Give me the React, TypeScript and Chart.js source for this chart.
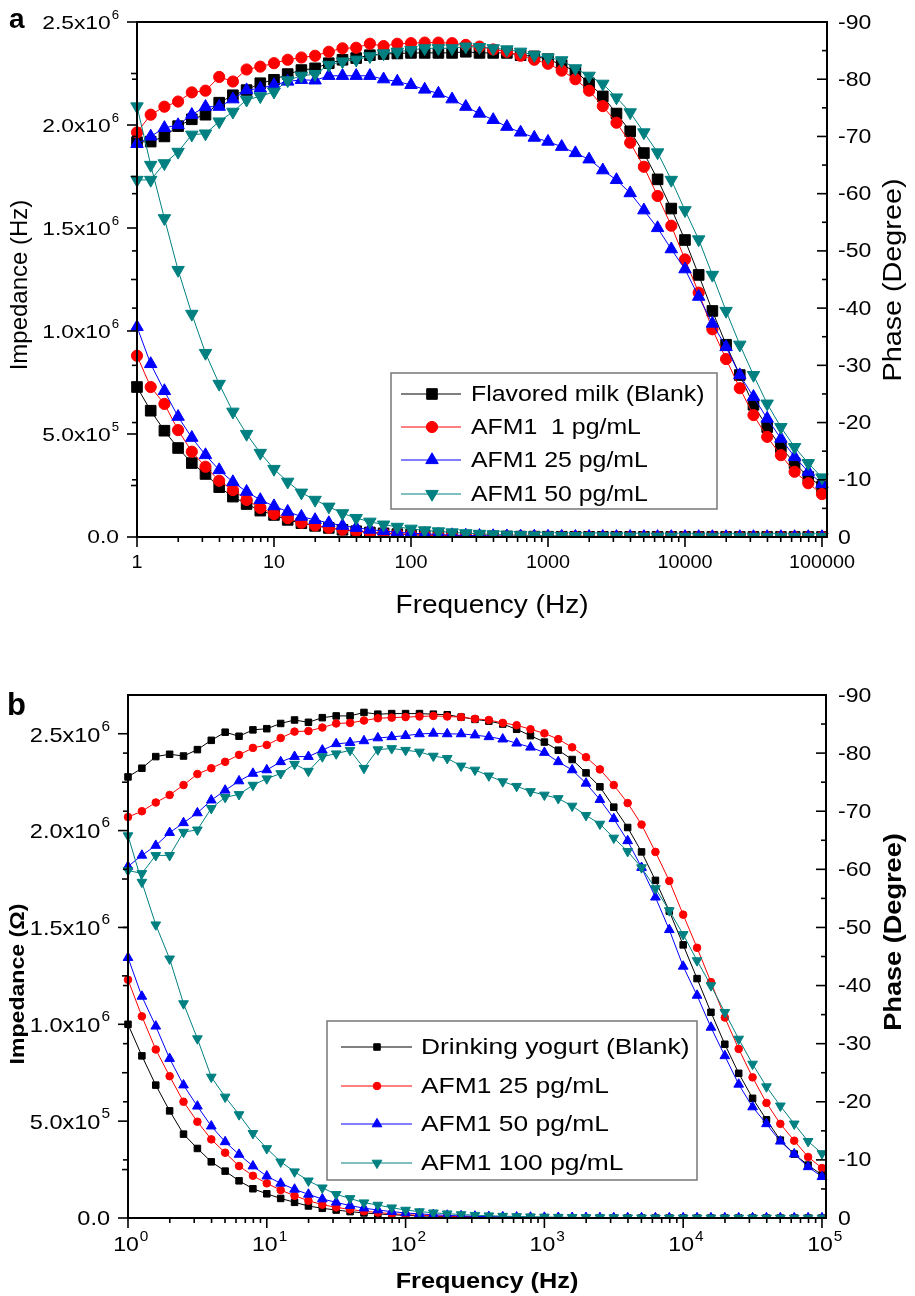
import React, { useEffect, useRef } from 'react';
import { Chart, registerables } from 'chart.js';

Chart.register(...registerables);

// ---------------- data ----------------
const FREQ = [
  1, 1.259, 1.585, 1.995, 2.512, 3.162, 3.981, 5.012, 6.31, 7.943,
  10, 12.59, 15.85, 19.95, 25.12, 31.62, 39.81, 50.12, 63.1, 79.43,
  100, 125.9, 158.5, 199.5, 251.2, 316.2, 398.1, 501.2, 631, 794.3,
  1000, 1259, 1585, 1995, 2512, 3162, 3981, 5012, 6310, 7943,
  10000, 12589, 15849, 19953, 25119, 31623, 39811, 50119, 63096, 79433, 100000,
];

// Panel a: flavored milk
const A_LABELS = ['Flavored milk (Blank)', 'AFM1  1 pg/mL', 'AFM1 25 pg/mL', 'AFM1 50 pg/mL'];
const A_Z_BLANK = [
  7.28e5, 6.13e5, 5.16e5, 4.32e5, 3.59e5, 3.06e5, 2.42e5, 1.96e5, 1.6e5, 1.28e5,
  1.07e5, 8.3e4, 6.7e4, 5.4e4, 4.4e4, 3.5e4, 2.8e4, 2.2e4, 1.8e4, 1.4e4,
  1.1e4, 9000, 7200, 5800, 4700, 3800, 3100, 2500, 2100, 1800,
  1500, 1300, 1100, 1000, 900, 800, 720, 650, 590, 540,
  490, 450, 420, 390, 370, 350, 340, 330, 320, 310, 300,
];
const A_Z_1 = [
  8.8e5, 7.28e5, 6.46e5, 5.19e5, 4.14e5, 3.41e5, 2.73e5, 2.28e5, 1.8e5, 1.41e5,
  1.12e5, 9.2e4, 6.9e4, 5.6e4, 4.5e4, 3.6e4, 2.9e4, 2.3e4, 1.85e4, 1.5e4,
  1.2e4, 9500, 7600, 6100, 4900, 3900, 3200, 2600, 2100, 1800,
  1500, 1300, 1150, 1000, 900, 800, 720, 650, 590, 540,
  490, 450, 420, 390, 370, 350, 340, 330, 320, 310, 300,
];
const A_Z_25 = [
  1.02e6, 8.4e5, 7.09e5, 5.84e5, 4.82e5, 3.98e5, 3.25e5, 2.67e5, 2.2e5, 1.8e5,
  1.5e5, 1.23e5, 9.9e4, 8.3e4, 6.8e4, 5.5e4, 4.5e4, 3.6e4, 2.9e4, 2.3e4,
  1.85e4, 1.5e4, 1.2e4, 9500, 7600, 6100, 4900, 3900, 3200, 2600,
  2100, 1800, 1500, 1300, 1150, 1000, 900, 800, 720, 650,
  590, 540, 490, 450, 420, 390, 370, 350, 340, 330, 320,
];
const A_Z_50 = [
  2.09e6, 1.806e6, 1.547e6, 1.296e6, 1.083e6, 8.93e5, 7.43e5, 6.08e5, 5.0e5, 4.08e5,
  3.3e5, 2.68e5, 2.15e5, 1.8e5, 1.47e5, 1.15e5, 9.2e4, 7.4e4, 6.0e4, 4.9e4,
  4.0e4, 3.2e4, 2.7e4, 2.2e4, 1.8e4, 1.5e4, 1.25e4, 1.05e4, 8800, 7400,
  6200, 5200, 4400, 3700, 3100, 2600, 2200, 1900, 1600, 1400,
  1200, 1050, 920, 800, 700, 620, 560, 510, 470, 440, 410,
];
const A_PH_BLANK = [
  -69.0, -69.1, -70.0, -71.8, -73.0, -73.8, -75.9, -77.2, -78.1, -79.3,
  -79.9, -80.9, -81.6, -81.9, -82.8, -83.4, -83.7, -84.2, -84.4, -84.5,
  -84.6, -84.6, -84.6, -84.6, -84.8, -84.6, -84.6, -84.6, -84.2, -84.0,
  -83.5, -82.5, -81.4, -79.3, -77.0, -74.0, -70.9, -67.1, -62.5, -57.4,
  -51.9, -45.8, -39.5, -33.6, -28.3, -23.1, -19.2, -15.7, -12.9, -10.5, -8.8,
];
const A_PH_1 = [
  -70.7, -73.8, -75.2, -76.1, -77.7, -78.0, -80.4, -79.6, -81.7, -82.2,
  -82.8, -83.4, -83.8, -84.1, -84.8, -85.4, -85.5, -86.2, -85.8, -86.2,
  -86.3, -86.4, -86.4, -86.3, -86.0, -85.7, -85.2, -84.8, -84.1, -83.4,
  -82.7, -81.5, -80.0, -78.0, -75.3, -72.4, -68.9, -64.7, -59.6, -54.4,
  -48.5, -42.7, -36.3, -31.1, -26.0, -21.3, -17.5, -14.3, -11.4, -9.4, -7.5,
];
const A_PH_25 = [
  -68.7, -70.0, -71.5, -72.0, -73.8, -75.2, -75.2, -76.5, -78.1, -78.4,
  -79.0, -79.6, -79.9, -79.8, -80.6, -80.6, -80.6, -80.6, -80.0, -79.6,
  -79.0, -78.2, -77.5, -76.5, -75.2, -74.0, -72.9, -71.7, -70.7, -69.8,
  -69.1, -68.2, -67.1, -66.0, -64.1, -62.4, -60.1, -57.1, -54.0, -50.3,
  -46.8, -42.0, -37.3, -33.2, -28.3, -24.5, -20.7, -17.2, -14.0, -11.4, -9.3,
];
const A_PH_50 = [
  -62.4, -62.4, -65.3, -67.3, -70.3, -70.5, -72.6, -74.3, -76.4, -77.0,
  -77.8, -79.8, -80.6, -80.9, -82.5, -83.1, -83.4, -84.0, -84.5, -84.8,
  -85.1, -85.4, -85.4, -85.4, -85.7, -85.6, -85.4, -85.2, -84.8, -84.2,
  -83.8, -83.3, -81.9, -80.6, -79.2, -76.8, -74.2, -70.7, -67.2, -62.4,
  -57.1, -52.0, -45.8, -39.5, -33.6, -28.3, -23.3, -19.2, -15.7, -12.9, -10.4,
];

// Panel b: drinking yogurt
const B_LABELS = ['Drinking yogurt (Blank)', 'AFM1 25 pg/mL', 'AFM1 50 pg/mL', 'AFM1 100 pg/mL'];
const B_Z_BLANK = [
  1.0e6, 8.37e5, 6.86e5, 5.53e5, 4.33e5, 3.59e5, 2.9e5, 2.42e5, 1.92e5, 1.51e5,
  1.25e5, 1.01e5, 8.1e4, 6.2e4, 5.0e4, 4.1e4, 3.3e4, 2.6e4, 2.1e4, 1.7e4,
  1.35e4, 1.1e4, 9000, 7300, 6000, 4900, 4000, 3300, 2700, 2200,
  1800, 1500, 1250, 1050, 900, 780, 680, 600, 530, 480,
  440, 410, 390, 370, 350, 340, 330, 320, 315, 310, 305,
];
const B_Z_25 = [
  1.23e6, 1.041e6, 8.7e5, 7.32e5, 6.0e5, 4.97e5, 4.06e5, 3.37e5, 2.68e5, 2.18e5,
  1.79e5, 1.44e5, 1.15e5, 8.9e4, 6.9e4, 5.5e4, 4.4e4, 3.5e4, 2.8e4, 2.2e4,
  1.75e4, 1.4e4, 1.12e4, 9000, 7200, 5800, 4700, 3800, 3100, 2500,
  2000, 1650, 1350, 1120, 950, 820, 710, 620, 550, 500,
  460, 430, 400, 380, 360, 345, 335, 325, 318, 312, 306,
];
const B_Z_50 = [
  1.344e6, 1.144e6, 9.9e5, 8.23e5, 6.86e5, 5.77e5, 4.74e5, 3.93e5, 3.28e5, 2.68e5,
  2.16e5, 1.79e5, 1.48e5, 1.22e5, 9.8e4, 8.1e4, 6.4e4, 5.1e4, 4.1e4, 3.3e4,
  2.6e4, 2.1e4, 1.7e4, 1.35e4, 1.08e4, 8700, 7000, 5600, 4500, 3600,
  2900, 2350, 1900, 1550, 1280, 1060, 890, 760, 660, 580,
  520, 470, 430, 400, 380, 360, 345, 335, 325, 315, 308,
];
const B_Z_100 = [
  1.974e6, 1.734e6, 1.514e6, 1.338e6, 1.107e6, 9.26e5, 7.28e5, 6.25e5, 5.34e5, 4.37e5,
  3.59e5, 2.9e5, 2.39e5, 1.92e5, 1.56e5, 1.22e5, 1.01e5, 7.9e4, 6.7e4, 5.3e4,
  4.1e4, 3.3e4, 2.7e4, 2.2e4, 1.8e4, 1.45e4, 1.18e4, 9600, 7800, 6300,
  5100, 4100, 3300, 2700, 2200, 1800, 1500, 1250, 1050, 900,
  780, 680, 600, 540, 490, 450, 420, 400, 380, 365, 350,
];
const B_PH_BLANK = [
  -75.9, -77.4, -79.4, -79.8, -79.5, -80.6, -82.2, -83.6, -82.9, -84.0,
  -84.2, -85.1, -85.7, -85.3, -86.1, -86.4, -86.4, -87.0, -86.7, -86.8,
  -86.8, -86.8, -86.7, -86.6, -86.2, -85.8, -85.5, -85.0, -84.1, -83.0,
  -81.9, -80.5, -78.9, -76.6, -74.2, -70.7, -67.2, -63.0, -58.1, -52.8,
  -47.0, -41.2, -35.4, -29.9, -24.9, -20.6, -16.9, -13.4, -11.0, -9.1, -7.4,
];
const B_PH_25 = [
  -69.0, -70.0, -71.5, -72.8, -74.5, -76.4, -77.4, -78.5, -79.7, -80.9,
  -81.4, -82.6, -83.7, -83.8, -84.4, -85.1, -85.2, -85.6, -86.0, -86.1,
  -86.2, -86.3, -86.4, -86.3, -86.2, -85.9, -85.7, -85.2, -84.8, -84.1,
  -83.4, -82.4, -81.0, -79.3, -77.2, -74.5, -71.4, -67.7, -63.0, -58.0,
  -52.2, -46.5, -40.6, -34.5, -29.1, -24.2, -19.8, -16.2, -13.3, -10.5, -8.6,
];
const B_PH_50 = [
  -60.5, -62.4, -64.1, -66.3, -68.0, -69.7, -71.9, -73.6, -75.2, -76.5,
  -77.1, -78.5, -79.4, -79.4, -80.5, -81.6, -81.8, -82.1, -82.6, -82.8,
  -83.0, -83.3, -83.4, -83.3, -83.3, -83.1, -82.8, -82.4, -81.7, -81.0,
  -80.1, -78.5, -77.1, -74.8, -72.0, -68.7, -64.9, -60.3, -55.2, -49.6,
  -43.3, -38.3, -32.8, -27.9, -23.0, -19.1, -16.2, -13.2, -11.0, -8.8, -7.1,
];
const B_PH_100 = [
  -59.8, -59.3, -62.4, -62.4, -66.4, -66.8, -70.5, -72.4, -72.9, -74.5,
  -75.6, -76.5, -78.1, -76.9, -79.4, -79.9, -80.5, -77.4, -80.6, -80.8,
  -80.5, -80.2, -79.5, -79.1, -77.8, -77.1, -76.1, -75.1, -74.3, -73.4,
  -72.8, -72.2, -70.9, -69.3, -67.8, -65.4, -63.1, -60.3, -56.7, -52.9,
  -48.8, -44.3, -40.0, -35.4, -30.8, -26.5, -22.6, -19.3, -16.2, -13.2, -11.1,
];

// ticks
const Z_TICKS = [0, 5e5, 1e6, 1.5e6, 2e6, 2.5e6];
const Z_TICK_BASE = ['0.0', '5.0x10', '1.0x10', '1.5x10', '2.0x10', '2.5x10'];
const Z_TICK_SUP = ['', '5', '6', '6', '6', '6'];
const Z_MINOR = [2.5e5, 7.5e5, 1.25e6, 1.75e6, 2.25e6];
const PH_TICKS = [0, -10, -20, -30, -40, -50, -60, -70, -80, -90];
const PH_TICK_LABELS = ['0', '-10', '-20', '-30', '-40', '-50', '-60', '-70', '-80', '-90'];
const PH_MINOR = [-5, -15, -25, -35, -45, -55, -65, -75, -85];
const X_TICKS = [1, 10, 100, 1000, 10000, 100000];
const A_X_LABELS = ['1', '10', '100', '1000', '10000', '100000'];
const B_X_SUP = ['0', '1', '2', '3', '4', '5'];

// ---------------- styling ----------------
const FONT = '"Liberation Sans", Arial, Helvetica, sans-serif';
const COLORS = ['#000000', '#ff0000', '#0000ff', '#008080'];
const STYLES = ['rect', 'circle', 'triangle', 'triangle'];
const ROTS = [0, 0, 0, 180];
const W = 915;
const H = 648;

type Panel = {
  key: string;
  labels: string[];
  z: number[][];
  ph: number[][];
  area: { left: number; right: number; top: number; bottom: number };
  zMax: number;
  xMax: number;
  radii: number[];
  letter: string;
  letterSize: number;
  letterY: number;
};

const PANEL_A: Panel = {
  key: 'a',
  labels: A_LABELS,
  z: [A_Z_BLANK, A_Z_1, A_Z_25, A_Z_50],
  ph: [A_PH_BLANK, A_PH_1, A_PH_25, A_PH_50],
  area: { left: 137, right: 827, top: 22, bottom: 537 },
  zMax: 2.5e6,
  xMax: 108800,
  radii: [7.5, 5.6, 7.2, 7.2],
  letter: 'a',
  letterSize: 28,
  letterY: 28,
};

const PANEL_B: Panel = {
  key: 'b',
  labels: B_LABELS,
  z: [B_Z_BLANK, B_Z_25, B_Z_50, B_Z_100],
  ph: [B_PH_BLANK, B_PH_25, B_PH_50, B_PH_100],
  area: { left: 128, right: 826, top: 47, bottom: 570 },
  zMax: 2.7e6,
  xMax: 106900,
  radii: [4.6, 3.8, 5.6, 5.6],
  letter: 'b',
  letterSize: 31,
  letterY: 67,
};

function drawText(
  ctx: CanvasRenderingContext2D,
  s: string,
  x: number,
  y: number,
  size: number,
  o: { bold?: boolean; align?: CanvasTextAlign; sx?: number; rot?: number; base?: CanvasTextBaseline } = {}
) {
  ctx.save();
  ctx.translate(x, y);
  if (o.rot) ctx.rotate(o.rot);
  ctx.scale(o.sx ?? 1, 1);
  ctx.font = `${o.bold ? 'bold ' : ''}${size}px ${FONT}`;
  ctx.textAlign = o.align ?? 'left';
  ctx.textBaseline = o.base ?? 'middle';
  ctx.fillStyle = '#000';
  ctx.fillText(s, 0, 0);
  ctx.restore();
}

function textW(ctx: CanvasRenderingContext2D, s: string, size: number, sx = 1, bold = false) {
  ctx.save();
  ctx.font = `${bold ? 'bold ' : ''}${size}px ${FONT}`;
  const w = ctx.measureText(s).width * sx;
  ctx.restore();
  return w;
}

function drawMarker(ctx: CanvasRenderingContext2D, style: string, x: number, y: number, r: number, rot: number, color: string) {
  ctx.save();
  ctx.fillStyle = color;
  ctx.strokeStyle = color;
  ctx.lineWidth = 1;
  ctx.beginPath();
  if (style === 'rect') {
    const s = Math.SQRT1_2 * r;
    ctx.rect(x - s, y - s, 2 * s, 2 * s);
  } else if (style === 'circle') {
    ctx.arc(x, y, r, 0, Math.PI * 2);
  } else {
    let a = (rot * Math.PI) / 180;
    ctx.moveTo(x + Math.sin(a) * r, y - Math.cos(a) * r);
    a += (2 * Math.PI) / 3;
    ctx.lineTo(x + Math.sin(a) * r, y - Math.cos(a) * r);
    a += (2 * Math.PI) / 3;
    ctx.lineTo(x + Math.sin(a) * r, y - Math.cos(a) * r);
    ctx.closePath();
  }
  ctx.fill();
  ctx.stroke();
  ctx.restore();
}

function decorPlugin(p: Panel) {
  return {
    id: 'decor_' + p.key,
    afterDraw(chart: any) {
      const ctx: CanvasRenderingContext2D = chart.ctx;
      const { left, right, top, bottom } = chart.chartArea;
      const xs = chart.scales.x;
      const yz = chart.scales.yz;
      const yp = chart.scales.yp;
      const isA = p.key === 'a';
      ctx.save();
      ctx.strokeStyle = '#000';
      const line = (x1: number, y1: number, x2: number, y2: number) => {
        ctx.beginPath();
        ctx.moveTo(x1, y1);
        ctx.lineTo(x2, y2);
        ctx.stroke();
      };
      // frame
      ctx.lineWidth = 2;
      ctx.strokeRect(left, top, right - left, bottom - top);
      ctx.lineWidth = 1.6;
      // left ticks
      Z_TICKS.forEach((v) => {
        const y = yz.getPixelForValue(v);
        line(left - 10, y, left, y);
      });
      Z_MINOR.forEach((v) => {
        const y = yz.getPixelForValue(v);
        line(left - 6, y, left, y);
      });
      PH_TICKS.slice(1, 9).forEach((v) => {
        const y = yp.getPixelForValue(v);
        line(left - 5, y, left, y);
      });
      // right ticks (inward)
      PH_TICKS.forEach((v) => {
        const y = yp.getPixelForValue(v);
        line(right - 10, y, right, y);
      });
      PH_MINOR.forEach((v) => {
        const y = yp.getPixelForValue(v);
        line(right - 5, y, right, y);
      });
      // bottom ticks (outward)
      X_TICKS.forEach((v) => {
        const x = xs.getPixelForValue(v);
        line(x, bottom, x, bottom + 10);
      });
      for (let d = 1; d < 100000; d *= 10) {
        for (let k = 2; k <= 9; k++) {
          const x = xs.getPixelForValue(d * k);
          if (x <= right) line(x, bottom, x, bottom + 5);
        }
      }
      ctx.restore();

      // left labels
      const lBase = isA ? 19 : 21;
      const lSup = isA ? 12 : 14;
      const lSx = isA ? 1.2 : 1.12;
      const lRight = isA ? 119 : 110;
      const supDy = isA ? 6 : 7;
      Z_TICKS.forEach((v, i) => {
        const y = yz.getPixelForValue(v);
        const base = Z_TICK_BASE[i];
        const sup = Z_TICK_SUP[i];
        if (!sup) {
          drawText(ctx, base, lRight, y + 1, lBase, { align: 'right', sx: lSx });
        } else {
          const ws = textW(ctx, sup, lSup, 1.1);
          const wb = textW(ctx, base, lBase, lSx);
          const x0 = lRight - ws - wb - 1;
          drawText(ctx, base, x0, y + 2, lBase, { sx: lSx });
          drawText(ctx, sup, x0 + wb + 1, y - supDy, lSup, { sx: 1.1 });
        }
      });
      // right labels
      PH_TICKS.forEach((v, i) => {
        const y = yp.getPixelForValue(v);
        drawText(ctx, PH_TICK_LABELS[i], 838, y + 1, 20, { sx: 1.15 });
      });
      // x labels
      X_TICKS.forEach((v, i) => {
        const x = xs.getPixelForValue(v);
        if (isA) {
          drawText(ctx, A_X_LABELS[i], x, bottom + 26, 18, { align: 'center', sx: 1.1 });
        } else {
          const wb = textW(ctx, '10', 21, 1.1);
          drawText(ctx, '10', x - 2, bottom + 27, 21, { align: 'center', sx: 1.1 });
          drawText(ctx, B_X_SUP[i], x - 2 + wb / 2 + 1, bottom + 19, 14, { sx: 1.1 });
        }
      });

      // axis titles
      if (isA) {
        drawText(ctx, 'Impedance (Hz)', 20, 285, 24, { align: 'center', rot: -Math.PI / 2 });
        drawText(ctx, 'Phase (Degree)', 894, 280, 25, { align: 'center', rot: -Math.PI / 2, sx: 1.15 });
        drawText(ctx, 'Frequency (Hz)', 492, 606, 25, { align: 'center', sx: 1.12 });
      } else {
        drawText(ctx, 'Impedance (Ω)', 18, 336, 21, { align: 'center', rot: -Math.PI / 2, sx: 1.1, bold: true });
        drawText(ctx, 'Phase (Degree)', 895, 284, 23, { align: 'center', rot: -Math.PI / 2, sx: 1.18, bold: true });
        drawText(ctx, 'Frequency (Hz)', 487, 634, 22, { align: 'center', sx: 1.15, bold: true });
      }
      // panel letter
      drawText(ctx, p.letter, isA ? 9 : 7, p.letterY, p.letterSize, { bold: true, base: 'alphabetic' });

      // legend
      const lg = isA
        ? { x1: 391, y1: 373, x2: 717, y2: 509, rows: [394, 427, 460, 494], l1: 401, l2: 461, m: 432, t: 471, fs: 22, sx: 1.13 }
        : { x1: 327, y1: 373, x2: 697, y2: 532, rows: [399, 438, 476, 515], l1: 341, l2: 412, m: 377, t: 421, fs: 22, sx: 1.2 };
      ctx.save();
      ctx.strokeStyle = '#777';
      ctx.lineWidth = 1.5;
      ctx.strokeRect(lg.x1, lg.y1, lg.x2 - lg.x1, lg.y2 - lg.y1);
      p.labels.forEach((lab, i) => {
        const y = lg.rows[i];
        ctx.strokeStyle = COLORS[i];
        ctx.lineWidth = 1;
        line(lg.l1, y, lg.l2, y);
        drawMarker(ctx, STYLES[i], lg.m, y, p.radii[i], ROTS[i], COLORS[i]);
        drawText(ctx, lab, lg.t, y + 1, lg.fs, { sx: lg.sx });
      });
      ctx.restore();
    },
  };
}

function buildConfig(p: Panel): any {
  const datasets: any[] = [];
  const mk = (vals: number[], i: number, axis: string) => ({
    label: p.labels[i] + (axis === 'yz' ? ' |Z|' : ' phase'),
    data: FREQ.map((f, k) => ({ x: f, y: vals[k] })),
    yAxisID: axis,
    xAxisID: 'x',
    borderColor: COLORS[i],
    backgroundColor: COLORS[i],
    borderWidth: 1,
    pointStyle: STYLES[i],
    pointRotation: ROTS[i],
    pointRadius: p.radii[i],
    pointBorderWidth: 1,
    pointBorderColor: COLORS[i],
    pointBackgroundColor: COLORS[i],
    tension: 0,
    fill: false,
    clip: { left: 12, right: 12, top: 12, bottom: 0 },
    order: 4 - i,
  });
  for (let i = 0; i < 4; i++) {
    datasets.push(mk(p.z[i], i, 'yz'));
    datasets.push(mk(p.ph[i], i, 'yp'));
  }
  const hidden = { ticks: { display: false }, grid: { display: false }, border: { display: false }, title: { display: false } };
  return {
    type: 'line',
    data: { datasets },
    options: {
      responsive: false,
      maintainAspectRatio: false,
      animation: false,
      events: [],
      layout: { padding: { top: p.area.top, left: 0, right: 0, bottom: 0 } },
      plugins: { legend: { display: false }, tooltip: { enabled: false }, title: { display: false } },
      scales: {
        x: {
          type: 'logarithmic',
          position: 'bottom',
          min: 1,
          max: p.xMax,
          ...hidden,
          afterFit: (s: any) => {
            s.height = H - p.area.bottom;
          },
        },
        yz: {
          type: 'linear',
          position: 'left',
          min: 0,
          max: p.zMax,
          ...hidden,
          afterFit: (s: any) => {
            s.width = p.area.left;
          },
        },
        yp: {
          type: 'linear',
          position: 'right',
          min: -90,
          max: 0,
          reverse: true,
          ...hidden,
          afterFit: (s: any) => {
            s.width = W - p.area.right;
          },
        },
      },
    },
    plugins: [decorPlugin(p)],
  };
}

function PanelChart({ panel, top }: { panel: Panel; top: number }) {
  const ref = useRef<HTMLCanvasElement | null>(null);
  useEffect(() => {
    if (!ref.current) return;
    const chart = new Chart(ref.current, buildConfig(panel));
    return () => chart.destroy();
  }, [panel]);
  return (
    <canvas
      ref={ref}
      width={W}
      height={H}
      style={{ position: 'absolute', left: 0, top, width: W, height: H, display: 'block' }}
    />
  );
}

export default function App() {
  return (
    <div style={{ position: 'absolute', left: 0, top: 0, width: W, height: 1296, background: '#ffffff', overflow: 'hidden' }}>
      <PanelChart panel={PANEL_A} top={0} />
      <PanelChart panel={PANEL_B} top={648} />
    </div>
  );
}
